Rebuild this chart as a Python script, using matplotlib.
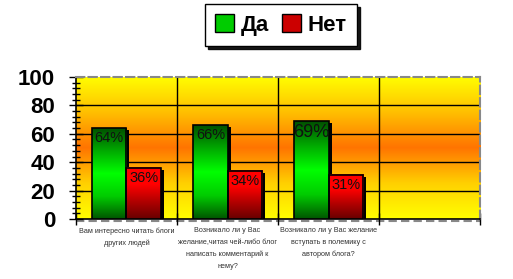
import numpy as np
import matplotlib.pyplot as plt
from matplotlib.colors import LinearSegmentedColormap
from matplotlib.patches import Rectangle, Patch
from matplotlib.transforms import ScaledTranslation

categories = ['Вам интересно читать блоги\nдругих людей',
              'Возникало ли у Вас\nжелание,читая чей-либо блог\nнаписать комментарий к\nнему?',
              'Возникало ли у Вас желание\nвступать в полемику с\nавтором блога?',
              '']
yes_vals = [64, 66, 69]
no_vals = [36, 34, 31]
yes_labels = ['64%', '66%', '69%']
no_labels = ['36%', '34%', '31%']

plt.rcParams['font.family'] = ['Liberation Sans', 'DejaVu Sans']

fig = plt.figure(figsize=(5.13, 2.79), dpi=100)
ax = fig.add_axes([0.148, 0.215, 0.788, 0.509])
ax.set_xlim(0, 4)
ax.set_ylim(0, 100)

# background gradient: yellow - orange - yellow
bg = LinearSegmentedColormap.from_list('bg', ['#FFFF00', '#FFD000', '#FF7400', '#FFC000', '#FFFF00'])
grad = np.linspace(0, 1, 256).reshape(-1, 1)
ax.imshow(grad, cmap=bg, extent=[0, 4, 0, 100], aspect='auto', origin='lower', zorder=0)

for y in [20, 40, 60, 80]:
    ax.axhline(y, color='black', lw=1, zorder=1)
for x in [1, 2, 3]:
    ax.axvline(x, color='black', lw=1, zorder=1)

green = LinearSegmentedColormap.from_list('g', ['#005500', '#00CC00', '#00FF00', '#00AA00', '#005000'])
red = LinearSegmentedColormap.from_list('r', ['#680000', '#B00000', '#FF0000', '#FF0000'])

w = 0.34
shadow = ax.transData + ScaledTranslation(3/100, -2/100, fig.dpi_scale_trans)
for i in range(len(yes_vals)):
    for x0, v, cm, lab, fs in [(i + 0.5 - w, yes_vals[i], green, yes_labels[i], 10.5 if i < 2 else 13),
                               (i + 0.5, no_vals[i], red, no_labels[i], 10.5)]:
        ax.add_patch(Rectangle((x0, 0), w, v, facecolor='black', edgecolor='none',
                               transform=shadow, zorder=2))
        ax.imshow(grad, cmap=cm, extent=[x0, x0 + w, 0, v], aspect='auto',
                  origin='lower', zorder=3)
        ax.add_patch(Rectangle((x0, 0), w, v, facecolor='none', edgecolor='black',
                               lw=1.2, zorder=4))
        ax.text(x0 + w / 2, v - 2, lab, ha='center', va='top', fontsize=fs,
                color='#111111', zorder=5)
ax.set_xlim(0, 4)
ax.set_ylim(0, 100)

ax.set_yticks(range(0, 101, 20))
ax.set_yticks(range(0, 101, 4), minor=True)
ax.tick_params(axis='y', which='major', direction='inout', length=10, width=1, pad=10,
               labelsize=16)
ax.tick_params(axis='y', which='minor', direction='inout', length=6, width=1)
for t in ax.get_yticklabels():
    t.set_fontweight('bold')

ax.set_xticks([0.5, 1.5, 2.5, 3.5])
ax.set_xticklabels(categories, fontsize=5.2, color='#333333', linespacing=1.9)
ax.tick_params(axis='x', length=0, pad=6)
ax.set_xticks([0, 1, 2, 3, 4], minor=True)
ax.tick_params(axis='x', which='minor', direction='inout', length=8, width=1)

for s in ['top', 'right']:
    ax.spines[s].set_color('#888888')
    ax.spines[s].set_linestyle((0, (4, 2)))
    ax.spines[s].set_linewidth(1.5)
ax.spines['left'].set_linewidth(1.2)
ax.spines['bottom'].set_linewidth(1.2)
ax.plot([0, 4], [0, 0], color='#888888', lw=1.5, ls=(0, (4, 2)), clip_on=False,
        transform=ax.transData + ScaledTranslation(0, -2/100, fig.dpi_scale_trans), zorder=1)

handles = [Patch(facecolor='#00CC00', edgecolor='black', label='Да'),
           Patch(facecolor='#CC0000', edgecolor='black', label='Нет')]
leg = fig.legend(handles=handles, loc='center', bbox_to_anchor=(0.548, 0.91), ncol=2,
                 frameon=True, fancybox=False, shadow={'color': 'black', 'alpha': 0.9},
                 handlelength=0.85, handleheight=0.85, handletextpad=0.3, columnspacing=0.6,
                 borderpad=0.45, prop={'weight': 'bold', 'size': 16})
leg.get_frame().set_edgecolor('black')
leg.get_frame().set_linewidth(1)

fig.savefig('out.png', dpi=100)
